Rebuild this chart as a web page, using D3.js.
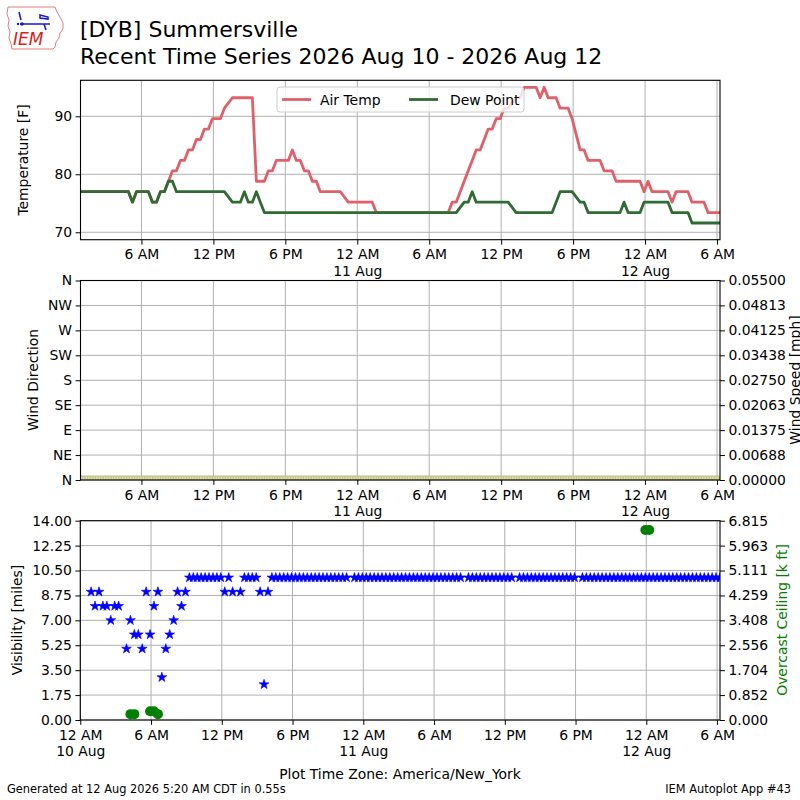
<!DOCTYPE html>
<html><head><meta charset="utf-8">
<script src="https://cdn.jsdelivr.net/npm/d3@7"></script>
<style>
body{margin:0;background:#fff}
text{font-family:"DejaVu Sans",sans-serif;fill:#000}
</style>
</head><body>
<svg id="c" width="800" height="800" xmlns="http://www.w3.org/2000/svg"></svg>
<script>
// ---------------- DATA ----------------
const stationTitle = "[DYB] Summersville";
const subTitle = "Recent Time Series 2026 Aug 10 - 2026 Aug 12";
const obsStart = "2026-08-10 00:55";   // local time (America/New_York) of first observation
const obsStepMinutes = 20;              // AWOS report interval
const bottomAxisStart = "2026-08-10 00:00";

// Air temperature [F], one per 20-minute report (null = missing report)
const airTemp = [
 77,77,77,77,77,77,77,77,77,77,
 77,77,77,75.2,77,77,77,77,75.2,75.2,
 77,77,78.8,80.6,80.6,82.4,82.4,84.2,84.2,86,
 86,87.8,87.8,89.6,89.6,89.6,91.4,null,93.2,93.2,
 93.2,93.2,93.2,93.2,78.8,78.8,78.8,80.6,80.6,82.4,
 82.4,82.4,82.4,84.2,82.4,82.4,80.6,80.6,78.8,78.8,
 77,77,77,77,77,77,null,75.2,75.2,75.2,
 75.2,75.2,75.2,75.2,73.4,73.4,73.4,73.4,73.4,73.4,
 73.4,73.4,73.4,73.4,73.4,73.4,73.4,73.4,73.4,73.4,
 73.4,73.4,73.4,75.2,75.2,null,78.8,80.6,82.4,84.2,
 84.2,86,87.8,87.8,89.6,89.6,91.4,91.4,null,93.2,
 93.2,95,95,95,95,93.2,95,93.2,93.2,93.2,
 91.4,91.4,91.4,89.6,null,84.2,84.2,82.4,82.4,82.4,
 82.4,80.6,80.6,80.6,78.8,78.8,78.8,78.8,78.8,78.8,
 78.8,77,78.8,77,77,77,77,77,75.2,77,
 77,77,77,75.2,75.2,75.2,75.2,73.4,73.4,73.4,
 73.4
];
// Dew point [F]
const dewPoint = [
 77,77,77,77,77,77,77,77,77,77,
 77,77,77,75.2,77,77,77,77,75.2,75.2,
 77,77,78.8,78.8,77,77,77,77,77,77,
 77,77,77,77,77,77,77,null,75.2,75.2,
 75.2,77,75.2,75.2,77,75.2,73.4,73.4,73.4,73.4,
 73.4,73.4,73.4,73.4,73.4,73.4,73.4,73.4,73.4,73.4,
 73.4,73.4,73.4,73.4,73.4,73.4,null,73.4,73.4,73.4,
 73.4,73.4,73.4,73.4,73.4,73.4,73.4,73.4,73.4,73.4,
 73.4,73.4,73.4,73.4,73.4,73.4,73.4,73.4,73.4,73.4,
 73.4,73.4,73.4,73.4,73.4,null,75.2,75.2,77,75.2,
 75.2,75.2,75.2,75.2,75.2,75.2,75.2,75.2,null,73.4,
 73.4,73.4,73.4,73.4,73.4,73.4,73.4,73.4,73.4,75.2,
 77,77,77,77,null,75.2,75.2,73.4,73.4,73.4,
 73.4,73.4,73.4,73.4,73.4,73.4,75.2,73.4,73.4,73.4,
 73.4,75.2,75.2,75.2,75.2,75.2,75.2,75.2,73.4,73.4,
 73.4,73.4,73.4,71.6,71.6,71.6,71.6,71.6,71.6,71.6,
 71.6
];
// Wind speed [mph] (calm throughout)
const windSpeed = [
 0,0,0,0,0,0,0,0,null,0, 0,0,0,0,0,0,0,0,0,0,
 0,0,0,0,0,0,0,0,0,0, 0,0,0,0,0,0,0,null,0,0,
 0,0,0,0,0,0,0,0,0,0, 0,0,0,0,0,0,0,0,0,0,
 0,0,0,0,0,0,null,0,0,0, 0,0,0,0,0,0,0,0,0,0,
 0,0,0,0,0,0,0,0,0,0, 0,0,0,0,0,null,0,0,0,0,
 0,0,0,0,0,0,0,0,null,0, 0,0,0,0,0,0,0,0,0,0,
 0,0,0,0,null,0,0,0,0,0, 0,0,0,0,0,0,0,0,0,0,
 0,0,0,0,0,0,0,0,0,0, 0,0,0,0,0,0,0,0,0,0,
 0
];
// Visibility [miles]
const visibility = [
 9,8,9,8,8,7,8,8,null,5,
 7,6,6,5,9,6,8,9,3,5,
 6,7,9,8,9,10,10,10,10,10,
 10,10,10,10,9,10,9,null,9,10,
 10,10,10,9,2.5,9,10,10,10,10,
 10,10,10,10,10,10,10,10,10,10,
 10,10,10,10,10,10,null,10,10,10,
 10,10,10,10,10,10,10,10,10,10,
 10,10,10,10,10,10,10,10,10,10,
 10,10,10,10,10,null,10,10,10,10,
 10,10,10,10,10,10,10,10,null,10,
 10,10,10,10,10,10,10,10,10,10,
 10,10,10,10,null,10,10,10,10,10,
 10,10,10,10,10,10,10,10,10,10,
 10,10,10,10,10,10,10,10,10,10,
 10,10,10,10,10,10,10,10,10,10,
 10
];
// Overcast ceiling [k ft], at report index
const ceilingReport = [10,11,15,16,17,141,142];
const ceilingKft    = [0.2,0.2,0.3,0.3,0.2,6.5,6.5];

// Tick labels
const tempTicks = [70,80,90];
const dirTickLabels = ["N","NE","E","SE","S","SW","W","NW","N"];
const dirTickValues = [0,45,90,135,180,225,270,315,360];
const windTickLabels = ["0.00000","0.00688","0.01375","0.02063","0.02750","0.03438","0.04125","0.04813","0.05500"];
const visTickLabels = ["0.00","1.75","3.50","5.25","7.00","8.75","10.50","12.25","14.00"];
const ceilTickLabels = ["0.000","0.852","1.704","2.556","3.408","4.259","5.111","5.963","6.815"];

// ---------------- DRAW ----------------
const svg = d3.select("#c");
const FS = 13.9;
const parseT = d3.utcParse("%Y-%m-%d %H:%M");
const t0 = parseT(obsStart);
const timeOf = i => d3.utcMinute.offset(t0, i * obsStepMinutes);
const nObs = airTemp.length;
const tEnd = timeOf(nObs - 1);

const L = 80.5, R = 720;
const P1 = {top: 80.3, bot: 239.7};
const P2 = {top: 280.5, bot: 480};
const P3 = {top: 520.7, bot: 720};

const xTop = d3.scaleUtc().domain([t0, tEnd]).range([L, R]);
const xBot = d3.scaleUtc().domain([parseT(bottomAxisStart), tEnd]).range([80.3, R]);

const yTemp = d3.scaleLinear().domain([68.72, 96.21]).range([P1.bot, P1.top]);
const yDir = d3.scaleLinear().domain([0, 360]).range([P2.bot, P2.top]);
const yWind = d3.scaleLinear().domain([0, 0.055]).range([P2.bot, P2.top]);
const yVis = d3.scaleLinear().domain([0, 14]).range([P3.bot, P3.top]);
const yCeil = d3.scaleLinear().domain([0, 6.815]).range([P3.bot, P3.top]);

const defs = svg.append("defs");
function clip(id, x0, x1, p) {
  defs.append("clipPath").attr("id", id).append("rect")
    .attr("x", x0).attr("y", p.top).attr("width", x1 - x0).attr("height", p.bot - p.top);
}
clip("c1", L, R, P1); clip("c2", L, R, P2); clip("c3", 80.3, R, P3);

const GRID = "#b0b0b0";
function hourLabel(d) {
  const h = d.getUTCHours();
  return h === 0 ? "12 AM" : h === 6 ? "6 AM" : h === 12 ? "12 PM" : "6 PM";
}
function panel(x, y, p, yTicks, yLabels, clipId) {
  const g = svg.append("g");
  const xt = x.ticks(d3.utcHour.every(6));
  g.selectAll(".gx").data(xt).join("line")
    .attr("x1", d => x(d)).attr("x2", d => x(d)).attr("y1", p.top).attr("y2", p.bot)
    .attr("stroke", GRID).attr("stroke-width", 1);
  g.selectAll(".gy").data(yTicks).join("line")
    .attr("x1", x.range()[0]).attr("x2", x.range()[1]).attr("y1", d => y(d)).attr("y2", d => y(d))
    .attr("stroke", GRID).attr("stroke-width", 1);
  const ax = svg.append("g").attr("transform", `translate(0,${p.bot})`)
    .call(d3.axisBottom(x).tickValues(xt).tickSize(4.9).tickPadding(4.9).tickSizeOuter(0).tickFormat(hourLabel));
  ax.select(".domain").remove();
  ax.selectAll("line").attr("stroke", "#000");
  ax.selectAll("text").attr("font-size", FS).attr("font-family", "DejaVu Sans").attr("fill", "#000")
    .each(function(d) {
      if (d.getUTCHours() === 0) {
        d3.select(this).append("tspan").attr("x", 0).attr("dy", "1.2em").text(d3.utcFormat("%-d %b")(d));
      }
    });
  const ay = svg.append("g").attr("transform", `translate(${x.range()[0]},0)`)
    .call(d3.axisLeft(y).tickValues(yTicks).tickSize(4.9).tickPadding(3.5).tickSizeOuter(0)
      .tickFormat((d, i) => yLabels ? yLabels[i] : d));
  ay.select(".domain").remove();
  ay.selectAll("line").attr("stroke", "#000");
  ay.selectAll("text").attr("font-size", FS).attr("font-family", "DejaVu Sans").attr("fill", "#000");
  return svg.append("g").attr("clip-path", `url(#${clipId})`);
}
function frame(x, p) {
  svg.append("rect").attr("x", x.range()[0]).attr("y", p.top)
    .attr("width", x.range()[1] - x.range()[0]).attr("height", p.bot - p.top)
    .attr("fill", "none").attr("stroke", "#000").attr("stroke-width", 1.1);
}
function rightAxis(x, y, labels) {
  const vals = labels.map(Number);
  const a = svg.append("g").attr("transform", `translate(${x.range()[1]},0)`)
    .call(d3.axisRight(y).tickValues(vals).tickSize(4.9).tickPadding(3.5).tickSizeOuter(0)
      .tickFormat((d, i) => labels[i]));
  a.select(".domain").remove();
  a.selectAll("line").attr("stroke", "#000");
  a.selectAll("text").attr("font-size", FS).attr("font-family", "DejaVu Sans").attr("fill", "#000");
}
function vlabel(txt, cx, cy, color) {
  svg.append("text").attr("transform", `translate(${cx},${cy}) rotate(-90)`)
    .attr("text-anchor", "middle").attr("dominant-baseline", "central")
    .attr("font-size", FS).style("fill", color || "#000").text(txt);
}

const obs = d3.range(nObs);

// ---- Panel 1: temperatures ----
const p1 = panel(xTop, yTemp, P1, tempTicks, null, "c1");
p1.append("path").datum(obs.filter(i => airTemp[i] != null))
  .attr("d", d3.line().x(i => xTop(timeOf(i))).y(i => yTemp(airTemp[i])))
  .attr("fill", "none").attr("stroke", "#e0606a").attr("stroke-width", 2.8).attr("stroke-linejoin", "round");
p1.append("path").datum(obs.filter(i => dewPoint[i] != null))
  .attr("d", d3.line().x(i => xTop(timeOf(i))).y(i => yTemp(dewPoint[i])))
  .attr("fill", "none").attr("stroke", "#2f6b33").attr("stroke-width", 2.8).attr("stroke-linejoin", "round");
frame(xTop, P1);
vlabel("Temperature [F]", 22.5, 160);

// legend
const lg = svg.append("g");
lg.append("rect").attr("x", 277).attr("y", 87).attr("width", 247).attr("height", 25).attr("rx", 3)
  .attr("fill", "#fff").attr("fill-opacity", 0.8).attr("stroke", "#cccccc");
[["Air Temp", "#e0606a", 282, 320], ["Dew Point", "#2f6b33", 409, 450]].forEach(([t, c, lx, tx]) => {
  lg.append("line").attr("x1", lx).attr("x2", lx + 29).attr("y1", 99.5).attr("y2", 99.5)
    .attr("stroke", c).attr("stroke-width", 2.8);
  lg.append("text").attr("x", tx).attr("y", 104.5).attr("font-size", FS).text(t);
});

// ---- Panel 2: wind ----
const p2 = panel(xTop, yDir, P2, dirTickValues, dirTickLabels, "c2");
const windObs = obs.filter(i => windSpeed[i] != null);
p2.append("path").datum(windObs)
  .attr("d", d3.line().x(i => xTop(timeOf(i))).y(i => yWind(windSpeed[i])))
  .attr("fill", "none").attr("stroke", "#c3c584").attr("stroke-width", 9);
p2.append("path").datum(windObs)
  .attr("d", d3.line().x(i => xTop(timeOf(i))).y(i => yWind(windSpeed[i])))
  .attr("transform", "translate(0,-2.2)")
  .attr("fill", "none").attr("stroke", "#ffffff").attr("stroke-opacity", 0.75)
  .attr("stroke-width", 1.2).attr("stroke-dasharray", "1.3,1.3");
frame(xTop, P2);
rightAxis(xTop, yWind, windTickLabels);
vlabel("Wind Direction", 33, 380);
vlabel("Wind Speed [mph]", 795, 380);

// ---- Panel 3: visibility & ceiling ----
const visVals = visTickLabels.map(Number);
const p3 = panel(xBot, yVis, P3, visVals, visTickLabels, "c3");
const star = d3.symbol().type(d3.symbolStar).size(30);
p3.selectAll(".vis").data(obs.filter(i => visibility[i] != null)).join("path")
  .attr("transform", i => `translate(${xBot(timeOf(i))},${yVis(visibility[i])})`)
  .attr("d", star).attr("fill", "#0000ff").attr("stroke", "#0000ff").attr("stroke-width", 0.6);
p3.selectAll(".ceil").data(ceilingReport.map((r, j) => ({t: timeOf(r), v: ceilingKft[j]}))).join("circle")
  .attr("cx", d => xBot(d.t)).attr("cy", d => yCeil(d.v)).attr("r", 5)
  .attr("fill", "#008000");
frame(xBot, P3);
rightAxis(xBot, yCeil, ceilTickLabels);
vlabel("Visibility [miles]", 17, 620);
vlabel("Overcast Ceiling [k ft]", 781.7, 620, "#008000");

svg.append("text").attr("x", 400).attr("y", 779).attr("text-anchor", "middle").attr("font-size", FS)
  .text("Plot Time Zone: America/New_York");

// ---- titles ----
svg.append("text").attr("x", 80).attr("y", 37).attr("font-size", 22).text(stationTitle);
svg.append("text").attr("x", 80).attr("y", 64).attr("font-size", 22).text(subTitle);

// footer
svg.append("text").attr("x", 7).attr("y", 793).attr("font-size", 11.4).text("Generated at 12 Aug 2026 5:20 AM CDT in 0.55s");
svg.append("text").attr("x", 791).attr("y", 793).attr("text-anchor", "end").attr("font-size", 11.4).text("IEM Autoplot App #43");

// ---- logo ----
const logo = svg.append("g");
logo.append("path")
  .attr("d", "M8,7 L55,7 L57,12 L60,17 L63,23 L63,29 L60,33 L59,38 L56,42 L55,47 L53,49 L12,49 L11,44 L9,38 L10,32 L8,26 L9,20 L7,14 Z")
  .attr("fill", "none").attr("stroke", "#e07070").attr("stroke-width", 0.9);
logo.append("path").attr("d", "M20,24 L50,24 M19,12 L21,20 M40,15 L48,17 L48,19 L40,18 Z M44,24 L46,30")
  .attr("fill", "none").attr("stroke", "#1a1ad0").attr("stroke-width", 1.6);
logo.append("circle").attr("cx", 22).attr("cy", 24).attr("r", 1.8).attr("fill", "#1a1ad0");
logo.append("circle").attr("cx", 18).attr("cy", 24).attr("r", 1.2).attr("fill", "#1a1ad0");
logo.append("text").attr("x", 13).attr("y", 45).attr("font-family", "Liberation Serif, serif")
  .attr("font-style", "italic").attr("font-size", 17).style("fill", "#d42020").text("IEM");
</script>
</body></html>
